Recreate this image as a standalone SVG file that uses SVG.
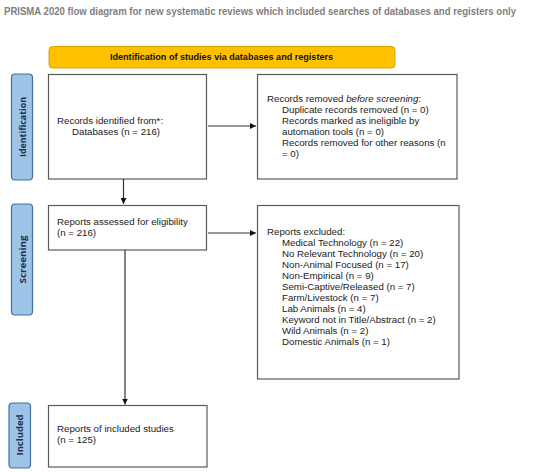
<svg xmlns="http://www.w3.org/2000/svg" width="550" height="472" viewBox="0 0 550 472">
<defs>
<style>
.box{fill:#ffffff;stroke:#5a5a5a;stroke-width:1.2}
.side{fill:#9dc3e6;stroke:#41719c;stroke-width:1.2}
.t{font-family:"Liberation Sans",Arial,sans-serif;font-size:9.7px;fill:#1a1a1a}
.sl{font-family:"Open Sans","Liberation Sans",sans-serif;font-size:9px;font-weight:bold;fill:#1f2f4f}
.conn{stroke:#333333;stroke-width:1.2;fill:none;marker-end:url(#ah)}
</style>
<marker id="ah" viewBox="0 0 8 8" refX="8" refY="4" markerWidth="6" markerHeight="6" markerUnits="userSpaceOnUse" orient="auto">
<path d="M0,0 L8,4 L0,8 z" fill="#111111"/>
</marker>
</defs>
<rect width="550" height="472" fill="#ffffff"/>
<text x="4" y="15" font-family="'Liberation Sans',Arial,sans-serif" font-size="10" font-weight="bold" fill="#7f7f7f" textLength="512" lengthAdjust="spacingAndGlyphs">PRISMA 2020 flow diagram for new systematic reviews which included searches of databases and registers only</text>

<g id="header">
<rect x="49" y="46.5" width="346" height="21.5" rx="3.5" fill="#ffc000" stroke="#d9a400" stroke-width="1"/>
<text x="221.5" y="60" text-anchor="middle" font-family="'Liberation Sans',Arial,sans-serif" font-size="9.8" font-weight="bold" fill="#111111" textLength="223" lengthAdjust="spacingAndGlyphs">Identification of studies via databases and registers</text>
</g>

<g id="side-identification">
<rect class="side" x="11.5" y="74" width="21" height="106" rx="3.5"/>
<text class="sl" transform="translate(25.5,127) rotate(-90)" text-anchor="middle" textLength="60" lengthAdjust="spacingAndGlyphs">Identification</text>
</g>
<g id="side-screening">
<rect class="side" x="11.5" y="204" width="21" height="111" rx="3.5"/>
<text class="sl" transform="translate(25.5,259.5) rotate(-90)" text-anchor="middle" textLength="48" lengthAdjust="spacingAndGlyphs">Screening</text>
</g>
<g id="side-included">
<rect class="side" x="9" y="403" width="21.5" height="65" rx="3.5"/>
<text class="sl" transform="translate(23,435) rotate(-90)" text-anchor="middle" textLength="41" lengthAdjust="spacingAndGlyphs">Included</text>
</g>

<g id="records-identified">
<rect class="box" x="48.5" y="74.5" width="158" height="104.5"/>
<text class="t" x="57" y="124">Records identified from*:</text>
<text class="t" x="72" y="135">Databases (n = 216)</text>
</g>

<g id="records-removed">
<rect class="box" x="257.5" y="74.5" width="199.5" height="104.5"/>
<text class="t" x="267" y="102">Records removed <tspan font-style="italic">before screening</tspan>:</text>
<text class="t" x="282" y="113">Duplicate records removed (n = 0)</text>
<text class="t" x="282" y="124">Records marked as ineligible by</text>
<text class="t" x="282" y="135">automation tools (n = 0)</text>
<text class="t" x="282" y="146">Records removed for other reasons (n</text>
<text class="t" x="282" y="157">= 0)</text>
</g>

<g id="reports-assessed">
<rect class="box" x="48.5" y="205.5" width="158" height="44.5"/>
<text class="t" x="57" y="225">Reports assessed for eligibility</text>
<text class="t" x="57" y="236">(n = 216)</text>
</g>

<g id="reports-excluded">
<rect class="box" x="257.5" y="205.5" width="201.5" height="173.5"/>
<text class="t" x="267" y="235">Reports excluded:</text>
<text class="t" x="282" y="246">Medical Technology (n = 22)</text>
<text class="t" x="282" y="257">No Relevant Technology (n = 20)</text>
<text class="t" x="282" y="268">Non-Animal Focused (n = 17)</text>
<text class="t" x="282" y="279">Non-Empirical (n = 9)</text>
<text class="t" x="282" y="290">Semi-Captive/Released (n = 7)</text>
<text class="t" x="282" y="301">Farm/Livestock (n = 7)</text>
<text class="t" x="282" y="312">Lab Animals (n = 4)</text>
<text class="t" x="282" y="323">Keyword not in Title/Abstract (n = 2)</text>
<text class="t" x="282" y="334">Wild Animals (n = 2)</text>
<text class="t" x="282" y="345">Domestic Animals (n = 1)</text>
</g>

<g id="reports-included">
<rect class="box" x="48.5" y="405.5" width="158.5" height="61.5"/>
<text class="t" x="57" y="432">Reports of included studies</text>
<text class="t" x="57" y="443">(n = 125)</text>
</g>

<g id="connectors">
<line class="conn" x1="208" y1="126" x2="256" y2="126"/>
<line class="conn" x1="123.5" y1="179" x2="123.5" y2="204"/>
<line class="conn" x1="208" y1="233" x2="256" y2="233"/>
<line class="conn" x1="125" y1="250" x2="125" y2="404.5"/>
</g>
</svg>
